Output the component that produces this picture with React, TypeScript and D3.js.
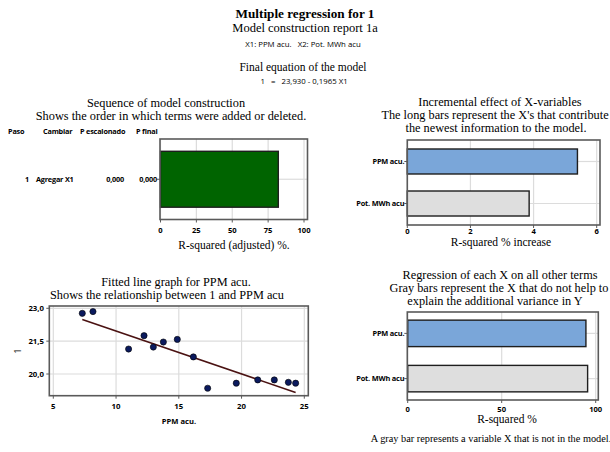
import * as d3 from "d3"
import React from "react"

// table of the step-wise construction
const seqSteps = ["1"]
const seqChange = ["Agregar X1"]
const seqPStep = ["0,000"]
const seqPFinal = ["0,000"]
const seqR2Adj = [82.1]

// predictors
const predictors = ["PPM acu.", "Pot. MWh acu"]
const inModel = [true, false]
const incrementR2 = [5.39, 3.86]
const otherR2 = [94.8, 95.7]

// fitted line data
const ppm = [7.31, 8.16, 11.0, 12.23, 12.97, 13.77, 14.88, 16.16, 17.3, 19.58, 21.29, 22.61, 23.73, 24.31]
const resp = [22.77, 22.85, 21.14, 21.75, 21.23, 21.46, 21.58, 20.78, 19.35, 19.58, 19.73, 19.73, 19.62, 19.58]
const intercept = 23.93
const slope = -0.1965

const seqTicks = [0, 25, 50, 75, 100]
const incTicks = [0, 2, 4, 6]
const otherTicks = [0, 50, 100]
const fitXTicks = [5, 10, 15, 20, 25]
const fitYTicks = [20, 21.5, 23]

const loc = d3.formatLocale({ decimal: ",", thousands: ".", grouping: [3], currency: ["", ""] })
const f1 = loc.format(".1f")

const serif = "'Liberation Serif', 'Times New Roman', serif"
const sans = "'Open Sans', 'Noto Sans', sans-serif"
const grid = "#dcdcdc"
const frame = "#5a5a5a"

const Titles = ({ lines, y0 }: { lines: [string, number][], y0: number }) => (
  <g>
    {lines.map((l, i) => (
      <text key={i} x={l[1]} y={y0 + i * 13} textAnchor="middle" fontFamily={serif} fontSize={12.3}>{l[0]}</text>
    ))}
  </g>
)

const HBars = (props: any) => {
  const { x, y, ticks, values, cats, colors, left, right, top, bottom, label, labelX, tickY, labelY, showCats } = props
  return (
    <g>
      {ticks.map((t: number) => (
        <line key={"g" + t} x1={x(t)} x2={x(t)} y1={top} y2={bottom} stroke={grid} strokeWidth={1.2} />
      ))}
      {cats.map((c: string, i: number) => (
        <line key={"h" + i} x1={x(values[i])} x2={right} y1={y(c) + y.bandwidth() / 2} y2={y(c) + y.bandwidth() / 2} stroke={grid} strokeWidth={1.2} />
      ))}
      {cats.map((c: string, i: number) => (
        <rect key={"b" + i} x={x(0)} y={y(c)} width={x(values[i]) - x(0)} height={y.bandwidth()}
          fill={colors[i]} stroke="#1e1e1e" strokeWidth={1.4} />
      ))}
      <rect x={left} y={top} width={right - left} height={bottom - top} fill="none" stroke={frame} strokeWidth={1.6} />
      {ticks.map((t: number) => (
        <g key={"t" + t}>
          <line x1={x(t)} x2={x(t)} y1={bottom} y2={bottom + 3} stroke={frame} />
          <text x={x(t)} y={tickY} textAnchor="middle" fontFamily={sans} fontWeight="bold" fontSize={7.6}>{t}</text>
        </g>
      ))}
      {cats.map((c: string, i: number) => (
        <g key={"c" + i}>
          <line x1={left - 3} x2={left} y1={y(c) + y.bandwidth() / 2} y2={y(c) + y.bandwidth() / 2} stroke={frame} />
          {showCats && <text x={left - 3} y={y(c) + y.bandwidth() / 2 + 2.6} textAnchor="end" fontFamily={sans} fontWeight="bold" fontSize={7.4} letterSpacing={-0.2}>{c}</text>}
        </g>
      ))}
      <text x={labelX} y={labelY} textAnchor="middle" fontFamily={serif} fontSize={11.5}>{label}</text>
    </g>
  )
}

export default function App() {
  // panel 1: sequence
  const x1 = d3.scaleLinear().domain([0, 100]).range([160.5, 304])
  const y1 = d3.scaleBand().domain(seqSteps).range([139, 219.5]).paddingInner(0).paddingOuter(0.22)

  // panel 2: incremental effect
  const x2 = d3.scaleLinear().domain([0, 6]).range([407.3, 596.7])
  const y2 = d3.scaleBand().domain(predictors).range([140, 225]).paddingInner(0.405).paddingOuter(0.214)

  // panel 4: regression of each X on others
  const x4 = d3.scaleLinear().domain([0, 100]).range([407.7, 595.7])
  const y4 = d3.scaleBand().domain(predictors).range([312, 400]).paddingInner(0.415).paddingOuter(0.18)

  // panel 3: fitted line
  const x3 = d3.scaleLinear().domain([5, 25]).range([53.3, 304.3])
  const y3 = d3.scaleLinear().domain([20, 23]).range([374, 308.3])
  const xs = d3.extent(ppm) as [number, number]
  const fit = d3.line<number>().x(d => x3(d)).y(d => y3(intercept + slope * d))(xs)

  const barColor = (i: number) => (inModel[i] ? "#7aa6d9" : "#dedede")

  return (
    <svg width={610} height={452} style={{ position: "absolute", left: 0, top: 0, background: "#fff" }}>
      {/* header */}
      <text x={305} y={17.5} textAnchor="middle" fontFamily={serif} fontWeight="bold" fontSize={13.2}>Multiple regression for 1</text>
      <text x={305} y={31.5} textAnchor="middle" fontFamily={serif} fontSize={12.5}>Model construction report 1a</text>
      <text x={303} y={47} textAnchor="middle" fontFamily={sans} fontSize={7.8} style={{ whiteSpace: "pre" }}>{"X1: PPM acu.   X2: Pot. MWh acu"}</text>
      <text x={303} y={71} textAnchor="middle" fontFamily={serif} fontSize={11.5}>Final equation of the model</text>
      <text x={304} y={84} textAnchor="middle" fontFamily={sans} fontSize={7.8} style={{ whiteSpace: "pre" }}>{"1   =   23,930 - 0,1965 X1"}</text>

      {/* panel 1 */}
      <Titles y0={107} lines={[["Sequence of model construction", 166], ["Shows the order in which terms were added or deleted.", 171]]} />
      <g fontFamily={sans} fontWeight="bold" fontSize={7.3} letterSpacing={-0.2}>
        <text x={8} y={133.5}>Paso</text>
        <text x={43} y={133.5}>Cambiar</text>
        <text x={80} y={133.5}>P escalonado</text>
        <text x={136} y={133.5}>P final</text>
        {seqSteps.map((s, i) => (
          <g key={s}>
            <text x={25} y={y1(s)! + y1.bandwidth() / 2 + 2.6}>{s}</text>
            <text x={36} y={y1(s)! + y1.bandwidth() / 2 + 2.6}>{seqChange[i]}</text>
            <text x={124} y={y1(s)! + y1.bandwidth() / 2 + 2.6} textAnchor="end">{seqPStep[i]}</text>
            <text x={157} y={y1(s)! + y1.bandwidth() / 2 + 2.6} textAnchor="end">{seqPFinal[i]}</text>
          </g>
        ))}
      </g>
      <HBars x={x1} y={y1} ticks={seqTicks} values={seqR2Adj} cats={seqSteps} colors={["#006400"]}
        left={160} right={307.5} top={139} bottom={219.5} tickY={232.5} label="R-squared (adjusted) %." labelX={234} labelY={249} showCats={false} />

      {/* panel 2 */}
      <Titles y0={106} lines={[["Incremental effect of X-variables", 500], ["The long bars represent the X's that contribute", 495], ["the newest information to the model.", 496]]} />
      <HBars x={x2} y={y2} ticks={incTicks} values={incrementR2} cats={predictors} colors={predictors.map((_, i) => barColor(i))}
        left={407.3} right={600} top={140} bottom={225} tickY={234} label="R-squared % increase" labelX={501} labelY={246} showCats={true} />

      {/* panel 3 */}
      <Titles y0={285.5} lines={[["Fitted line graph for PPM acu.", 176], ["Shows the relationship between 1 and PPM acu", 167]]} />
      <g>
        {fitXTicks.map(t => <line key={"gx" + t} x1={x3(t)} x2={x3(t)} y1={306} y2={395.7} stroke={grid} strokeWidth={1.2} />)}
        {fitYTicks.map(t => <line key={"gy" + t} x1={49.3} x2={308.3} y1={y3(t)} y2={y3(t)} stroke={grid} strokeWidth={1.2} />)}
        <path d={fit!} fill="none" stroke="#4a1212" strokeWidth={1.6} />
        {ppm.map((p, i) => (
          <circle key={i} cx={x3(p)} cy={y3(resp[i])} r={3.1} fill="#0b1a5e" stroke="#000" strokeWidth={0.6} />
        ))}
        <rect x={49.3} y={306} width={259} height={89.7} fill="none" stroke={frame} strokeWidth={1.6} />
        {fitXTicks.map(t => (
          <g key={"tx" + t}>
            <line x1={x3(t)} x2={x3(t)} y1={395.7} y2={398.7} stroke={frame} />
            <text x={x3(t)} y={409} textAnchor="middle" fontFamily={sans} fontWeight="bold" fontSize={7.8}>{t}</text>
          </g>
        ))}
        {fitYTicks.map(t => (
          <g key={"ty" + t}>
            <line x1={46.3} x2={49.3} y1={y3(t)} y2={y3(t)} stroke={frame} />
            <text x={44} y={y3(t) + 2.8} textAnchor="end" fontFamily={sans} fontWeight="bold" fontSize={7.8}>{f1(t)}</text>
          </g>
        ))}
        <text x={179} y={424} textAnchor="middle" fontFamily={sans} fontWeight="bold" fontSize={7.6}>PPM acu.</text>
        <text transform="translate(21,351) rotate(-90)" textAnchor="middle" fontFamily={sans} fontSize={8.5}>1</text>
      </g>

      {/* panel 4 */}
      <Titles y0={279} lines={[["Regression of each X on all other terms", 500], ["Gray bars represent the X that do not help to", 499], ["explain the additional variance in Y", 495]]} />
      <HBars x={x4} y={y4} ticks={otherTicks} values={otherR2} cats={predictors} colors={predictors.map((_, i) => barColor(i))}
        left={407.3} right={598.3} top={312} bottom={400} tickY={411.5} label="R-squared %" labelX={507} labelY={423} showCats={true} />

      <text x={491} y={442} textAnchor="middle" fontFamily={serif} fontSize={10.3}>A gray bar represents a variable X that is not in the model.</text>
    </svg>
  )
}
